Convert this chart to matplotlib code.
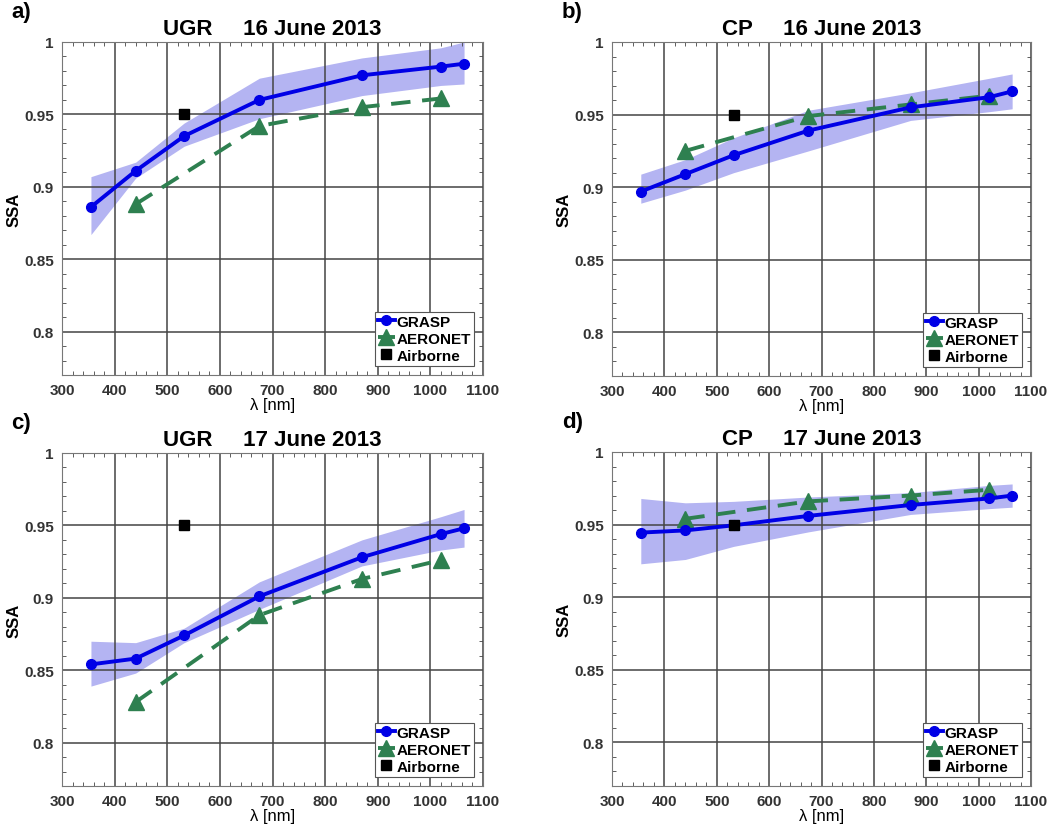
import numpy as np
import matplotlib
matplotlib.use("Agg")
import matplotlib.pyplot as plt
from matplotlib.ticker import MultipleLocator, FixedLocator

plt.rcParams['font.family'] = ['Liberation Sans', 'DejaVu Sans']

# wavelengths
wl_grasp = [355, 440, 532, 675, 870, 1020, 1064]
wl_aero = [440, 675, 870, 1020]
wl_air = [532]

# a) UGR 16 June
grasp_a = [0.886, 0.911, 0.935, 0.960, 0.977, 0.983, 0.985]
upper_a = [0.907, 0.917, 0.944, 0.975, 0.989, 0.996, 1.000]
lower_a = [0.867, 0.906, 0.928, 0.947, 0.963, 0.970, 0.971]
aero_a = [0.888, 0.942, 0.955, 0.961]

# b) CP 16 June
grasp_b = [0.897, 0.909, 0.922, 0.939, 0.955, 0.962, 0.966]
upper_b = [0.909, 0.919, 0.934, 0.953, 0.965, 0.975, 0.978]
lower_b = [0.889, 0.898, 0.910, 0.925, 0.946, 0.952, 0.954]
aero_b = [0.925, 0.949, 0.957, 0.963]

# c) UGR 17 June
grasp_c = [0.854, 0.858, 0.874, 0.901, 0.928, 0.944, 0.948]
upper_c = [0.870, 0.869, 0.879, 0.911, 0.940, 0.956, 0.961]
lower_c = [0.839, 0.848, 0.869, 0.892, 0.922, 0.933, 0.935]
aero_c = [0.828, 0.888, 0.913, 0.926]

# d) CP 17 June
grasp_d = [0.9445, 0.946, 0.9495, 0.956, 0.9635, 0.968, 0.970]
upper_d = [0.968, 0.965, 0.966, 0.969, 0.972, 0.977, 0.978]
lower_d = [0.923, 0.926, 0.935, 0.945, 0.957, 0.961, 0.962]
aero_d = [0.954, 0.966, 0.970, 0.974]

airborne = [0.95]

panels = [
    ('a)', 'UGR     16 June 2013', grasp_a, upper_a, lower_a, aero_a),
    ('b)', 'CP     16 June 2013', grasp_b, upper_b, lower_b, aero_b),
    ('c)', 'UGR     17 June 2013', grasp_c, upper_c, lower_c, aero_c),
    ('d)', 'CP     17 June 2013', grasp_d, upper_d, lower_d, aero_d),
]

# axes boxes in pixels: left, top, right, bottom
W, H = 1063, 829
boxes = [(62, 43, 483, 376), (612, 43, 1031, 377),
         (62, 454, 483, 787), (612, 453, 1031, 787)]

fig = plt.figure(figsize=(W / 100, H / 100), dpi=100)

for (letter, title, g, up, lo, ae), (l, t, r, b) in zip(panels, boxes):
    ax = fig.add_axes([l / W, 1 - b / H, (r - l) / W, (b - t) / H])

    ax.fill_between(wl_grasp, lo, up, color='#b4b4f2', linewidth=0, zorder=1)
    ax.plot(wl_grasp, g, color='#0000e6', linewidth=2.8, marker='o',
            markersize=7, label='GRASP', zorder=3)
    ax.plot(wl_aero, ae, color='#2e8050', linewidth=2.8, linestyle=(0, (5, 3)),
            marker='^', markersize=11.5, label='AERONET', zorder=2)
    ax.plot(wl_air, airborne, linestyle='none', marker='s', color='black',
            markersize=6.5, label='Airborne', zorder=4)

    ax.set_xlim(300, 1100)
    ax.set_ylim(0.77, 1.0)
    ax.xaxis.set_major_locator(MultipleLocator(100))
    ax.xaxis.set_minor_locator(MultipleLocator(20))
    ax.yaxis.set_major_locator(FixedLocator([0.8, 0.85, 0.9, 0.95, 1.0]))
    ax.yaxis.set_minor_locator(MultipleLocator(0.01))
    ax.set_yticklabels(['0.8', '0.85', '0.9', '0.95', '1'])
    ax.tick_params(which='both', direction='in', top=True, right=True,
                   labelsize=11, color='#444444')
    ax.tick_params(which='major', length=0, pad=6)
    ax.tick_params(which='minor', length=3, width=0.6)
    for lab in ax.get_xticklabels() + ax.get_yticklabels():
        lab.set_fontweight('bold')
        lab.set_color('#333333')

    ax.grid(True, which='major', color='#444444', linewidth=1.1)
    for sp in ax.spines.values():
        sp.set_color('#777777')
        sp.set_linewidth(0.8)

    ax.set_ylabel('SSA', fontsize=12, fontweight='bold', labelpad=2)
    ax.set_xlabel('λ [nm]', fontsize=12, labelpad=0)
    ax.set_title(title, fontsize=16, fontweight='bold', pad=6)
    ax.text(-0.12, 1.06, letter, transform=ax.transAxes, fontsize=16,
            fontweight='bold', va='bottom', ha='left')

    leg = ax.legend(loc='lower right', handlelength=1.1,
                    handletextpad=0.1, borderpad=0.2, labelspacing=0.2,
                    borderaxespad=0.6, fancybox=False, framealpha=1,
                    prop={'weight': 'bold', 'size': 11})
    leg.get_frame().set_edgecolor('#555555')
    leg.get_frame().set_linewidth(0.8)

fig.savefig('out.png', dpi=100)
